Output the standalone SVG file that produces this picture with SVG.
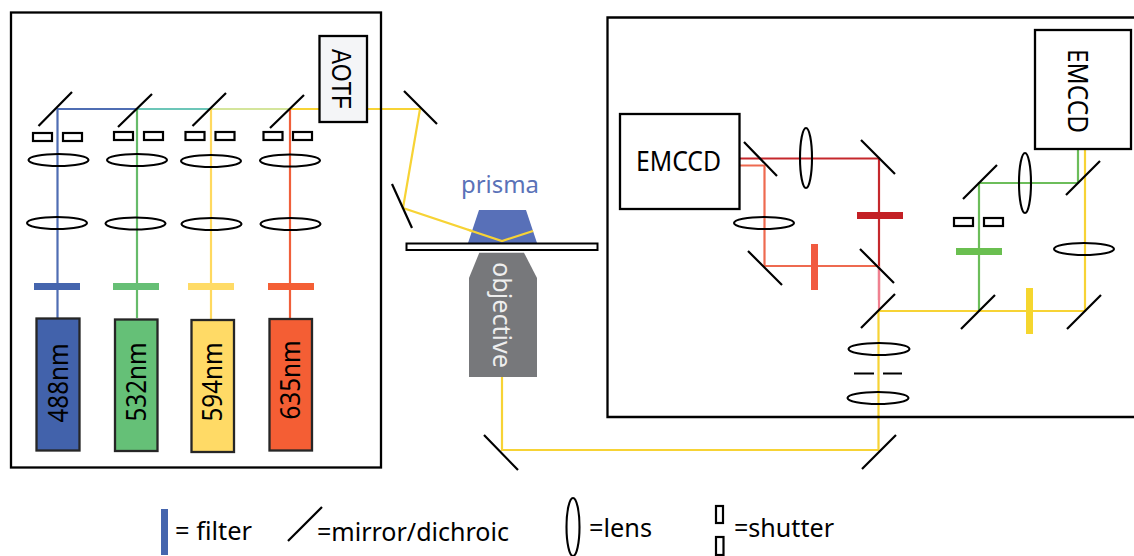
<svg xmlns="http://www.w3.org/2000/svg" width="1134" height="556" viewBox="0 0 1134 556">
<style>
.box{fill:none;stroke:#000;stroke-width:2.300}
.m{stroke:#000;stroke-width:2.200;fill:none;stroke-linecap:butt}
.l{fill:none;stroke:#000;stroke-width:2.100}
.s{fill:#fff;stroke:#000;stroke-width:2.200}
.b{fill:none;stroke-width:2.200}
.las{stroke:#262626;stroke-width:2.300}
text{font-family:"Noto Sans","Open Sans","Liberation Sans",sans-serif;fill:#000}
.t{font-size:27px}
.lg{font-size:25px}
</style>
<rect width="1134" height="556" fill="#fff"/>
<g id="connectors">
<path class="b" stroke="#4f6db3" d="M57.500 318V109H137"/>
<path class="b" stroke="#6cc6b8" d="M137 109H211"/>
<path class="b" stroke="#d4e59b" d="M211 109H290"/>
<path class="b" stroke="#66bb6a" d="M137 318V109"/>
<path class="b" stroke="#ffd95f" d="M211 319V109"/>
<path class="b" stroke="#f05f3a" d="M290 318V109"/>
<path class="b" stroke="#f7d335" d="M290 109H420L403 208L502 241L533 231"/>
<path class="b" stroke="#c5282c" d="M740 158.500H879V300"/>
<path class="b" stroke="#ee6a50" d="M740 165.500H764.500V266H879"/>
<path class="b" stroke="#f08090" d="M879 266V311"/>
<path class="b" stroke="#f7d335" d="M502 377V450H878.500V311H1085V150"/>
<path class="b" stroke="#6cbd5a" d="M979 311V183H1078V150"/>
</g>
<g id="laser-box"><rect class="box" x="11" y="12.500" width="370" height="455"/></g>
<g id="aotf"><rect x="319.500" y="36" width="47.500" height="86" fill="#f4f5f7" stroke="#000" stroke-width="2.300"/><text transform="translate(332,79) rotate(90)" text-anchor="middle" font-size="27" textLength="60" lengthAdjust="spacingAndGlyphs" style="font-family:'Liberation Sans',sans-serif">AOTF</text></g>
<g id="mirrors-laser">
<path class="m" d="M38.500 126L72 92M118 127L152 94M192.500 126L226 93M270 128L304 95M404 91L437 124M392 184L412 228"/>
</g>
<g id="shutters-laser">
<rect class="s" x="33" y="133" width="19" height="8"/><rect class="s" x="63" y="133" width="19" height="8"/>
<rect class="s" x="114" y="132" width="19" height="8"/><rect class="s" x="144" y="132" width="19" height="8"/>
<rect class="s" x="185.500" y="132" width="19" height="8"/><rect class="s" x="215.500" y="132" width="19" height="8"/>
<rect class="s" x="263.500" y="132" width="19" height="8"/><rect class="s" x="293" y="132" width="19" height="8"/>
</g>
<g id="lenses-laser">
<ellipse class="l" cx="58.500" cy="160" rx="30" ry="6"/><ellipse class="l" cx="137" cy="160" rx="30" ry="6"/><ellipse class="l" cx="211" cy="161" rx="30" ry="6"/><ellipse class="l" cx="290" cy="160.500" rx="30" ry="6"/>
<ellipse class="l" cx="57" cy="223" rx="30" ry="6"/><ellipse class="l" cx="135.500" cy="223.500" rx="30" ry="6"/><ellipse class="l" cx="211.500" cy="224" rx="30" ry="6"/><ellipse class="l" cx="290.500" cy="224" rx="30" ry="6"/>
</g>
<g id="filters-laser">
<rect x="34" y="283" width="46" height="7" fill="#4565ae"/><rect x="113" y="283" width="46" height="7" fill="#66bf75"/><rect x="188" y="283" width="46" height="7" fill="#ffdb66"/><rect x="268" y="283" width="46" height="7" fill="#f45f35"/>
</g>
<g id="laser-488"><rect class="las" x="36.500" y="318.500" width="43" height="132" fill="#4262ab"/><text class="t" transform="translate(68,383) rotate(-90)" text-anchor="middle" textLength="79" lengthAdjust="spacingAndGlyphs">488nm</text></g>
<g id="laser-532"><rect class="las" x="115" y="319.500" width="42.500" height="131.500" fill="#65c077"/><text class="t" transform="translate(146,382) rotate(-90)" text-anchor="middle" textLength="79" lengthAdjust="spacingAndGlyphs">532nm</text></g>
<g id="laser-594"><rect class="las" x="191.500" y="320" width="42.500" height="132" fill="#ffda66"/><text class="t" transform="translate(222,382) rotate(-90)" text-anchor="middle" textLength="79" lengthAdjust="spacingAndGlyphs">594nm</text></g>
<g id="laser-635"><rect class="las" x="269.500" y="319" width="42.500" height="131.500" fill="#f45e34"/><text class="t" transform="translate(300,380) rotate(-90)" text-anchor="middle" textLength="79" lengthAdjust="spacingAndGlyphs">635nm</text></g>
<g id="prisma">
<polygon points="468,243 479,210 526,210 537,243" fill="#5870b8"/>
<path class="b" stroke="#f7d335" d="M468 229.700L502 241L533 231"/>
<text x="500" y="193" text-anchor="middle" font-size="24" textLength="78" lengthAdjust="spacingAndGlyphs" style="fill:#5a72b8">prisma</text>
</g>
<g id="glass"><rect x="406.500" y="243.500" width="191" height="6.500" fill="#fff" stroke="#000" stroke-width="2"/></g>
<g id="objective">
<polygon points="479.300,252.700 524,252.700 537,278 537,377 469,377 469,278" fill="#77787b"/>
<text transform="translate(493,315) rotate(90)" font-size="25" style="fill:#eeeeee" text-anchor="middle" textLength="106" lengthAdjust="spacingAndGlyphs">objective</text>
</g>
<g id="detection-box"><path class="box" d="M1134 17.500H607.500V417H1134"/></g>
<g id="emccd-1"><rect x="620" y="114" width="119.500" height="95" fill="#fff" stroke="#000" stroke-width="2.300"/><text class="t" x="678.500" y="171" text-anchor="middle" textLength="85" lengthAdjust="spacingAndGlyphs">EMCCD</text></g>
<g id="emccd-2"><rect x="1035" y="30" width="96" height="119" fill="#fff" stroke="#000" stroke-width="2.300"/><text class="t" transform="translate(1068,91) rotate(90)" text-anchor="middle" textLength="84" lengthAdjust="spacingAndGlyphs">EMCCD</text></g>
<g id="mirrors-detection">
<path class="m" d="M744 142L777 176M861 140L895 174M860 249L894 283M748 251L782 285M861 328L895 294M961 329L995 295M1067 329L1101 295M963 199L997 165M1066 195L1100 161M862 469L896 435M484 435L518 470"/>
</g>
<g id="lenses-detection">
<ellipse class="l" cx="806" cy="158" rx="6" ry="30"/><ellipse class="l" cx="764" cy="223" rx="30" ry="6"/><ellipse class="l" cx="1025" cy="183" rx="6" ry="30"/><ellipse class="l" cx="1084" cy="249" rx="30" ry="6"/><ellipse class="l" cx="879" cy="349" rx="30.500" ry="6"/><ellipse class="l" cx="878" cy="398" rx="30.500" ry="6"/>
</g>
<g id="filters-detection">
<rect x="857" y="212" width="46" height="7" fill="#c32025"/><rect x="811" y="244" width="7" height="46" fill="#f15a40"/><rect x="956" y="248" width="46" height="7" fill="#6abf50"/><rect x="1026" y="288" width="7" height="46" fill="#f5d62e"/>
</g>
<g id="shutters-detection">
<rect class="s" x="954" y="218" width="19" height="8"/><rect class="s" x="984" y="218" width="19" height="8"/>
<path d="M854 373.500H874M883 373.500H902" stroke="#000" stroke-width="2"/>
</g>
<g id="legend">
<rect x="161" y="509" width="7" height="46" fill="#4565ae"/><text class="lg" x="175" y="540" textLength="77" lengthAdjust="spacingAndGlyphs">= filter</text>
<path class="m" d="M288 541L322 507"/><text class="lg" x="317" y="541" textLength="192" lengthAdjust="spacingAndGlyphs">=mirror/dichroic</text>
<ellipse class="l" cx="573" cy="527" rx="6.500" ry="29"/><text class="lg" x="589" y="537" textLength="63" lengthAdjust="spacingAndGlyphs">=lens</text>
<rect class="s" x="716" y="506" width="7" height="17"/><rect class="s" x="716" y="537" width="7.500" height="18"/><text class="lg" x="734" y="537" textLength="100" lengthAdjust="spacingAndGlyphs">=shutter</text>
</g>
</svg>
